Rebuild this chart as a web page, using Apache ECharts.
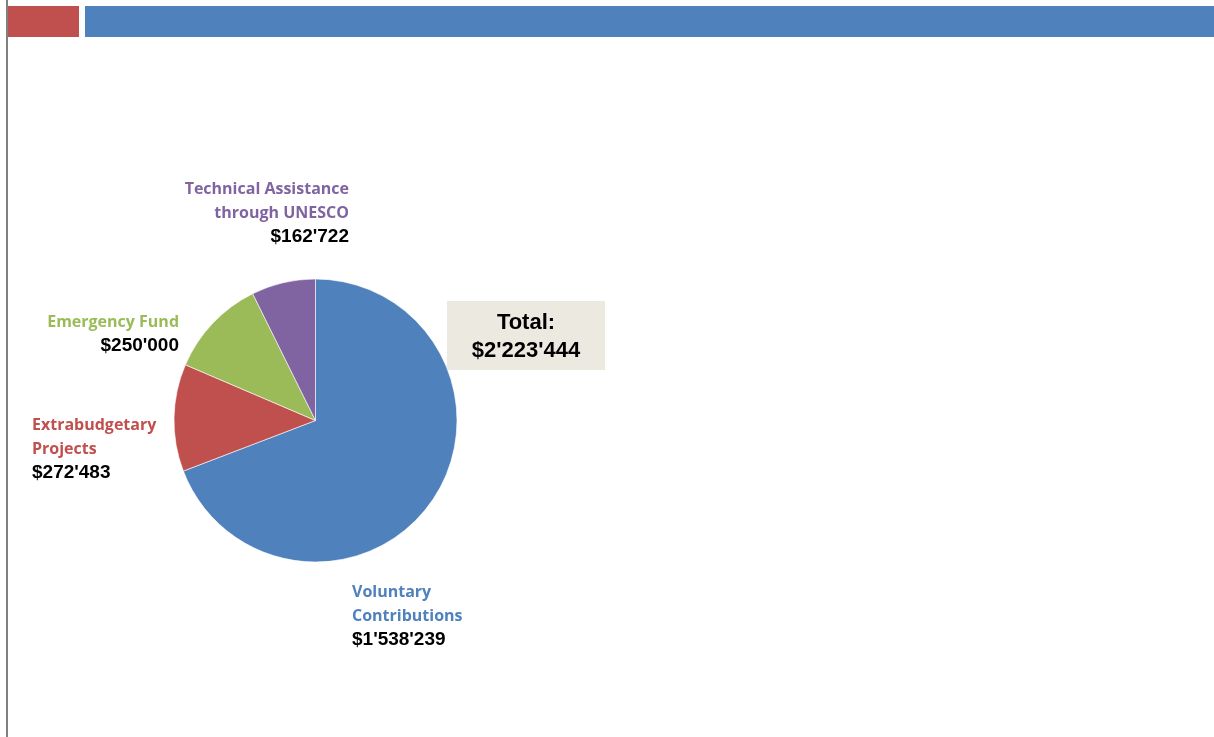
<!DOCTYPE html>
<html>
<head>
<meta charset="utf-8">
<script src="https://cdn.jsdelivr.net/npm/echarts@6/dist/echarts.min.js"></script>
<style>
  html, body { margin: 0; padding: 0; background: #fff; }
  #chart { width: 1214px; height: 737px; }
</style>
</head>
<body>
<div id="chart"></div>
<script>
const categories = ['Voluntary\nContributions', 'Extrabudgetary\nProjects', 'Emergency Fund', 'Technical Assistance\nthrough UNESCO']
const amounts = [1538239, 272483, 250000, 162722]
const sliceColors = ['#4F81BD', '#C0504D', '#9BBB59', '#8064A2']

// label anchors (top edge of the label block)
const LABEL_POS = [
  { x: 352, y: 580, align: 'left' },
  { x: 32, y: 413, align: 'left' },
  { x: 179, y: 310, align: 'right' },
  { x: 349, y: 177, align: 'right' }
]

const fmt = v => '$' + String(v).replace(/\B(?=(\d{3})+(?!\d))/g, "'")
const total = amounts.reduce((a, b) => a + b, 0)

const chart = echarts.init(document.getElementById('chart'))

const rich = { v: { fontFamily: 'Liberation Sans', fontWeight: 'bold', fontSize: 19, color: '#000', lineHeight: 24 } }
sliceColors.forEach((c, i) => {
  rich['n' + i] = { fontFamily: 'Open Sans', fontWeight: 'bold', fontSize: 16, color: c, lineHeight: 24 }
})

chart.setOption({
  animation: false,
  graphic: [
    { type: 'rect', shape: { x: 6, y: 0, width: 2, height: 737 }, style: { fill: '#808080' } },
    { type: 'rect', shape: { x: 8, y: 6, width: 71, height: 31 }, style: { fill: '#C0504D' } },
    { type: 'rect', shape: { x: 85, y: 6, width: 1129, height: 31 }, style: { fill: '#4F81BD' } },
    { type: 'rect', shape: { x: 447, y: 301, width: 158, height: 69 }, style: { fill: '#ECEAE0' } },
    {
      type: 'text', x: 526, y: 337,
      style: {
        text: 'Total:\n' + fmt(total), align: 'center', verticalAlign: 'middle',
        font: 'bold 22px "Liberation Sans"', lineHeight: 28, fill: '#000'
      }
    }
  ],
  series: [{
    type: 'pie',
    center: [315.5, 420.5],
    radius: 141.5,
    startAngle: 90,
    clockwise: true,
    itemStyle: { borderColor: '#fff', borderWidth: 0.6 },
    labelLine: { show: false },
    label: {
      show: true,
      overflow: 'none',
      width: 300,
      rich,
      formatter: p => p.name.split('\n').map(l => `{n${p.dataIndex}|${l}}`).join('\n') + `\n{v|${fmt(p.value)}}`
    },
    labelLayout: p => ({ ...LABEL_POS[p.dataIndex], verticalAlign: 'top' }),
    data: categories.map((name, i) => ({ name, value: amounts[i], itemStyle: { color: sliceColors[i] } }))
  }]
})
</script>
</body>
</html>
